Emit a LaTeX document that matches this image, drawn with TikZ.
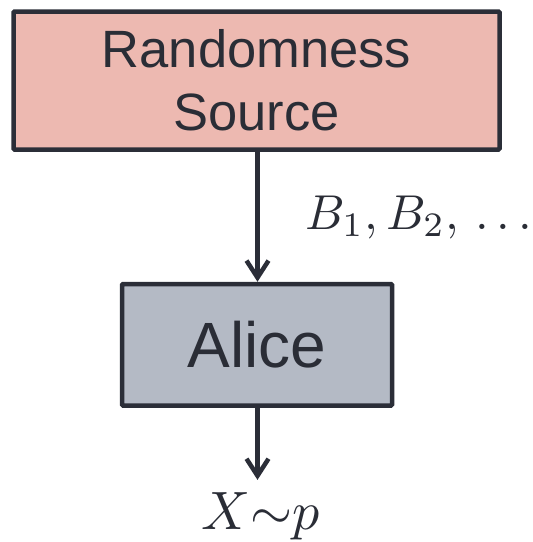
\documentclass[tikz,border=0pt]{standalone}
\usepackage{graphicx}
\usepackage{fontspec}
\setmainfont{Liberation Sans}
\usetikzlibrary{arrows.meta}
\definecolor{edgecol}{HTML}{2B2E38}
\definecolor{txtcol}{HTML}{2A2D36}
\definecolor{salmon}{HTML}{EDB9B1}
\definecolor{slate}{HTML}{B4BAC5}
\tikzset{
  box/.style={draw=edgecol, line width=4.5pt, rounded corners=1pt, inner sep=0pt, text=txtcol, align=center},
  arr/.style={draw=edgecol, line width=4.5pt, -{Straight Barb[length=17pt,width=22pt,line width=4.5pt]}},
  mathlbl/.style={text=txtcol, inner sep=0pt}
}
\begin{document}
\begin{tikzpicture}[x=1pt,y=-1pt]
\useasboundingbox (0,0) rectangle (533,542);
\node[box, fill=salmon, minimum width=486pt, minimum height=138pt,
      font=\fontsize{52.5}{63}\selectfont] (src) at (256.5,80.5) {Randomness\\Source};
\node[box, fill=slate, minimum width=270pt, minimum height=121.5pt,
      font=\fontsize{64}{70}\selectfont] (alice) at (257,344.75) {Alice};
\node[mathlbl, anchor=base west] (blabel) at (305,229) {\scalebox{4.9}{$B_1, B_2,\, \ldots$}};
\node[mathlbl, anchor=base] (out) at (261,529) {\scalebox{5.4}{$X{\sim}p$}};
\draw[arr] (src.south -| 257.5,0) -- (alice.north -| 257.5,0);
\draw[arr, shorten >=12pt] (alice.south -| 257.5,0) -- (out.north -| 257.5,0);
\end{tikzpicture}
\end{document}
